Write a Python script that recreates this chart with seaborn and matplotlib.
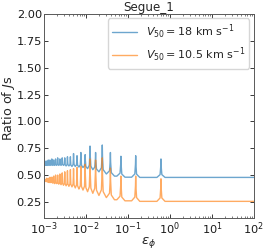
import matplotlib
matplotlib.use("Agg")
import matplotlib.pyplot as plt
import seaborn as sns
import numpy as np
import pandas as pd

sns.set_style("ticks")
plt.rcParams["font.family"] = ["DejaVu Sans"]

# --- DATA ---
# resonance peak positions (epsilon_phi), from the right-most peak going left
peak_eps = [0.61, 0.1525, 0.0678, 0.0381, 0.0244, 0.0169, 0.01245, 0.00953,
            0.00753, 0.0061, 0.00504, 0.00424, 0.00361, 0.00311, 0.00271,
            0.00238, 0.00211, 0.00188, 0.00169, 0.00153, 0.00138, 0.00126,
            0.00115, 0.00106]

blue_peak = [0.65, 0.68, 0.675, 0.71, 0.78, 0.71, 0.77, 0.69, 0.71, 0.68,
             0.70, 0.67, 0.67, 0.66, 0.66, 0.65, 0.66, 0.65, 0.64, 0.65,
             0.64, 0.64, 0.63, 0.63]
# trough to the left of each peak
blue_trough = [0.478, 0.48, 0.49, 0.51, 0.53, 0.55, 0.56, 0.57, 0.575, 0.58,
               0.58, 0.585, 0.585, 0.59, 0.59, 0.59, 0.59, 0.59, 0.59, 0.59,
               0.59, 0.59, 0.59, 0.59]
blue_flat = 0.478

orange_peak = [0.465, 0.49, 0.49, 0.565, 0.66, 0.64, 0.65, 0.60, 0.58, 0.57,
               0.56, 0.55, 0.54, 0.53, 0.52, 0.51, 0.50, 0.50, 0.49, 0.48,
               0.48, 0.47, 0.47, 0.46]
orange_trough = [0.255, 0.26, 0.27, 0.29, 0.31, 0.33, 0.345, 0.36, 0.37,
                 0.38, 0.39, 0.395, 0.40, 0.405, 0.41, 0.415, 0.42, 0.42,
                 0.425, 0.43, 0.43, 0.435, 0.44, 0.44]
orange_flat = 0.255

eps_range = [1e-3, 1e2]
labels = [r"$V_{50} = 18$ km s$^{-1}$", r"$V_{50} = 10.5$ km s$^{-1}$"]


def build_curve(peaks, tops, troughs, flat):
    # connect the read peaks/troughs as narrow spikes
    xs, ys = [eps_range[1]], [flat]
    right_base = flat
    for i, (x0, top) in enumerate(zip(peaks, tops)):
        left_base = troughs[i]
        nxt = peaks[i + 1] if i + 1 < len(peaks) else eps_range[0]
        prv = peaks[i - 1] if i > 0 else eps_range[1]
        g_hi = min(1.25, np.sqrt(prv / x0))
        g_lo = min(1.25, np.sqrt(x0 / nxt))
        s_hi = min(1.05, g_hi ** 0.3)
        s_lo = min(1.05, g_lo ** 0.3)
        t_hi = min(1.012, g_hi ** 0.1)
        t_lo = min(1.012, g_lo ** 0.1)
        xs += [x0 * g_hi, x0 * s_hi, x0 * t_hi, x0, x0 / t_lo, x0 / s_lo, x0 / g_lo]
        ys += [right_base, right_base + 0.15 * (top - right_base),
               right_base + 0.6 * (top - right_base), top,
               left_base + 0.6 * (top - left_base),
               left_base + 0.15 * (top - left_base), left_base]
        right_base = left_base
    xs.append(eps_range[0])
    ys.append(troughs[-1])
    return xs, ys


fig, ax = plt.subplots(figsize=(2.67, 2.5), dpi=100)
fig.subplots_adjust(left=0.165, right=0.951, bottom=0.128, top=0.944)

colors = ["#1f77b4", "#ff7f0e"]
for (tops, troughs, flat), lab, c in zip(
        [(blue_peak, blue_trough, blue_flat), (orange_peak, orange_trough, orange_flat)],
        labels, colors):
    xs, ys = build_curve(peak_eps, tops, troughs, flat)
    df = pd.DataFrame({"eps": xs, "ratio": ys})
    sns.lineplot(data=df, x="eps", y="ratio", estimator=None, sort=False,
                 color=c, alpha=0.65, lw=1.0, label=lab, ax=ax)

ax.set_xscale("log")
ax.set_xlim(*eps_range)
ax.set_ylim(0.1, 2.0)
ax.set_yticks([0.25, 0.5, 0.75, 1.0, 1.25, 1.5, 1.75, 2.0])
ax.set_xticks([1e-3, 1e-2, 1e-1, 1e0, 1e1, 1e2])
ax.tick_params(which="both", direction="in", top=True, right=True,
               labelsize=8.2, colors="0.1", pad=1.5)
ax.tick_params(which="major", length=3, width=0.6)
ax.tick_params(which="minor", length=1.5, width=0.4)
for sp in ax.spines.values():
    sp.set_color("0.35")
    sp.set_linewidth(0.7)

ax.set_xlabel(r"$\varepsilon_\phi$", fontsize=9.5, labelpad=-1)
ax.set_ylabel(r"Ratio of $J$s", fontsize=9.2)
ax.yaxis.set_label_coords(-0.13, 0.537)
ax.set_title("Segue_1", fontsize=8.6, pad=2.5)
ax.legend(loc="upper right", fontsize=8, handlelength=2.2,
          borderaxespad=0.4, labelspacing=0.4)

fig.savefig("out.png", dpi=100)
